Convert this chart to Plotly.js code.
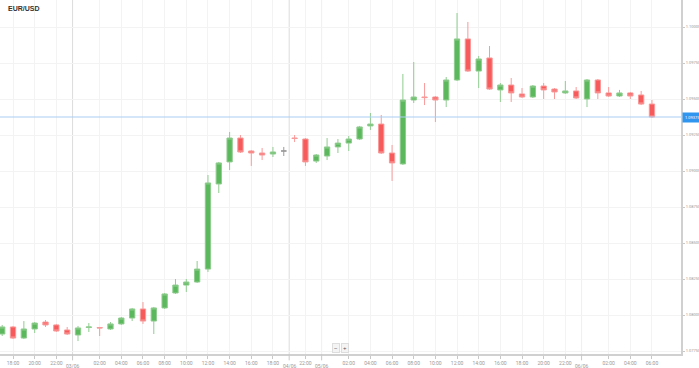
<!DOCTYPE html>
<html>
<head>
<meta charset="utf-8">
<script src="https://cdn.plot.ly/plotly-3.0.1.min.js"></script>
<style>html,body{margin:0;padding:0;background:#fff}#chart{width:699px;height:368px}</style>
</head>
<body>
<div id="chart"></div>
<script>
var title = "EUR/USD";
var times = [
"02/06 17:00","02/06 18:00","02/06 19:00","02/06 20:00","02/06 21:00","02/06 22:00","02/06 23:00",
"03/06 00:00","03/06 01:00","03/06 02:00","03/06 03:00","03/06 04:00","03/06 05:00","03/06 06:00",
"03/06 07:00","03/06 08:00","03/06 09:00","03/06 10:00","03/06 11:00","03/06 12:00","03/06 13:00",
"03/06 14:00","03/06 15:00","03/06 16:00","03/06 17:00","03/06 18:00","03/06 19:00",
"04/06 21:00","04/06 22:00","04/06 23:00",
"05/06 00:00","05/06 01:00","05/06 02:00","05/06 03:00","05/06 04:00","05/06 05:00","05/06 06:00",
"05/06 07:00","05/06 08:00","05/06 09:00","05/06 10:00","05/06 11:00","05/06 12:00","05/06 13:00",
"05/06 14:00","05/06 15:00","05/06 16:00","05/06 17:00","05/06 18:00","05/06 19:00","05/06 20:00",
"05/06 21:00","05/06 22:00","05/06 23:00",
"06/06 00:00","06/06 01:00","06/06 02:00","06/06 03:00","06/06 04:00","06/06 05:00","06/06 06:00"
];
var open = [1.07868,1.07917,1.07840,1.07903,1.07951,1.07931,1.07896,1.07861,1.07913,1.07913,
1.07903,1.07938,1.07979,1.08042,1.07958,1.08049,1.08153,1.08208,1.08229,1.08319,
1.08910,1.09063,1.09229,1.09139,1.09125,1.09118,1.09139,1.09229,1.09222,1.09069,
1.09104,1.09167,1.09194,1.09222,1.09313,1.09326,1.09125,1.09049,1.09493,1.09514,
1.09514,1.09493,1.09632,1.09917,1.09694,1.09785,1.09563,1.09597,1.09535,1.09514,
1.09590,1.09569,1.09542,1.09556,1.09500,1.09632,1.09542,1.09521,1.09542,1.09528,1.09465];
var high = [1.07931,1.07924,1.07958,1.07951,1.07965,1.07938,1.07917,1.07924,1.07944,1.07917,
1.07951,1.07986,1.08049,1.08090,1.08056,1.08153,1.08250,1.08250,1.08375,1.08972,
1.09063,1.09271,1.09250,1.09146,1.09160,1.09167,1.09167,1.09250,1.09229,1.09118,
1.09229,1.09222,1.09243,1.09313,1.09403,1.09389,1.09181,1.09674,1.09757,1.09611,
1.09521,1.09653,1.10097,1.10035,1.09799,1.09868,1.09611,1.09646,1.09576,1.09597,
1.09611,1.09576,1.09625,1.09583,1.09639,1.09639,1.09583,1.09563,1.09549,1.09556,1.09493];
var low = [1.07854,1.07833,1.07833,1.07875,1.07917,1.07882,1.07861,1.07819,1.07882,1.07854,
1.07896,1.07931,1.07958,1.07938,1.07868,1.08042,1.08146,1.08160,1.08222,1.08299,
1.08847,1.09007,1.09125,1.09035,1.09076,1.09097,1.09104,1.09201,1.09035,1.09056,
1.09076,1.09125,1.09139,1.09215,1.09285,1.09118,1.08931,1.09042,1.09472,1.09458,
1.09340,1.09444,1.09625,1.09688,1.09576,1.09563,1.09479,1.09479,1.09507,1.09507,
1.09500,1.09500,1.09535,1.09500,1.09444,1.09500,1.09514,1.09514,1.09500,1.09458,1.09368];
var close = [1.07917,1.07840,1.07903,1.07944,1.07931,1.07889,1.07868,1.07910,1.07917,1.07910,
1.07938,1.07979,1.08042,1.07958,1.08049,1.08146,1.08208,1.08229,1.08319,1.08917,
1.09056,1.09229,1.09132,1.09125,1.09111,1.09132,1.09139,1.09226,1.09063,1.09111,
1.09167,1.09194,1.09222,1.09306,1.09326,1.09125,1.09056,1.09493,1.09514,1.09510,
1.09493,1.09632,1.09917,1.09694,1.09778,1.09569,1.09597,1.09542,1.09514,1.09590,
1.09563,1.09549,1.09556,1.09507,1.09632,1.09542,1.09521,1.09542,1.09521,1.09465,1.09375];
var priceTicks = [1.07750,1.08000,1.08250,1.08500,1.08750,1.09000,1.09250,1.09500,1.09750,1.10000];
var lastPrice = 1.09375;
var breakDays = ["03/06","04/06"];

function pick(cond){
  var o={x:[],open:[],high:[],low:[],close:[]};
  for (var i=0;i<times.length;i++){ if(cond(open[i],close[i])){o.x.push(i);o.open.push(open[i]);o.high.push(high[i]);o.low.push(low[i]);o.close.push(close[i]);} }
  return o;
}
function cs(d, fill, line){
  return {type:'candlestick', x:d.x, open:d.open, high:d.high, low:d.low, close:d.close,
    increasing:{fillcolor:fill, line:{color:line,width:1}},
    decreasing:{fillcolor:fill, line:{color:line,width:1}},
    whiskerwidth:0, hoverinfo:'skip', showlegend:false};
}
var traces = [
  cs(pick(function(o,c){return c>o;}), '#5cb85c', '#8fcc8f'),
  cs(pick(function(o,c){return c<o;}), '#f75a5a', '#f99a9a'),
  cs(pick(function(o,c){return c===o;}), '#9a9a9a', '#9a9a9a')
];

var tickvals=[], ticktext=[], annotations=[], shapes=[];
for (var i=0;i<times.length;i++){
  var d=times[i].split(' ')[0], t=times[i].split(' ')[1];
  var h=parseInt(t,10);
  if (h%2===0 && h!==0){ tickvals.push(i); ticktext.push(t); }
  if (i>0 && times[i-1].split(' ')[0]!==d){
    annotations.push({xref:'x',yref:'paper',x:i-0.5,y:0,yanchor:'middle',yshift:-12,text:d,showarrow:false,
      font:{family:'Roboto, Arial, sans-serif',size:5,color:'#999'}});
    var dark = breakDays.indexOf(d)>=0;
    shapes.push({type:'line',xref:'x',yref:'paper',x0:i-0.5,x1:i-0.5,y0:0,y1:1,
      line:{color: dark?'#dcdcdc':'#efefef',width:1},layer:'below'});
    shapes.push({type:'line',xref:'x',yref:'paper',x0:i-0.5,x1:i-0.5,y0:0,y1:-0.018,
      line:{color:'#c8c8c8',width:1}});
  }
}
shapes.push({type:'line',xref:'paper',yref:'y',x0:0,x1:1,y0:lastPrice,y1:lastPrice,
  line:{color:'#a9cdf2',width:1},layer:'above'});
annotations.push({xref:'paper',yref:'y',x:1,y:lastPrice,xanchor:'left',yanchor:'middle',xshift:1,
  text:lastPrice.toFixed(5),showarrow:false,bgcolor:'#2f95ef',borderpad:2,
  font:{family:'Roboto, Arial, sans-serif',size:4,color:'#fff'}});
annotations.push({xref:'paper',yref:'paper',x:0.0088,y:0.975,xanchor:'left',yanchor:'middle',
  text:'<b>'+title+'</b>',showarrow:false,font:{family:'Liberation Sans, Arial, sans-serif',size:7,color:'#333'}});
annotations.push({xref:'paper',yref:'paper',x:0.493,y:0.017,xanchor:'center',yanchor:'middle',
  text:'−',showarrow:false,bgcolor:'#f4f4f4',bordercolor:'#dddddd',borderwidth:1,borderpad:1,
  font:{family:'Arial',size:6,color:'#555'}});
annotations.push({xref:'paper',yref:'paper',x:0.507,y:0.017,xanchor:'center',yanchor:'middle',
  text:'+',showarrow:false,bgcolor:'#f4f4f4',bordercolor:'#dddddd',borderwidth:1,borderpad:1,
  font:{family:'Arial',size:6,color:'#555'}});

var layout = {
  width:699, height:368, margin:{l:0,r:18,t:0,b:14},
  paper_bgcolor:'#fff', plot_bgcolor:'#fff', showlegend:false, boxgap:0.3,
  xaxis:{range:[-0.203,62.68], tickvals:tickvals, ticktext:ticktext, showgrid:true, gridcolor:'#f3f3f3',
    zeroline:false, showline:true, linecolor:'#d0d0d0', linewidth:2, ticks:'outside', ticklen:3, tickcolor:'#c8c8c8',
    tickfont:{family:'Roboto, Arial, sans-serif',size:5,color:'#999'}, rangeslider:{visible:false}, fixedrange:true},
  yaxis:{side:'right', range:[1.077292,1.101875], tickvals:priceTicks, ticktext:priceTicks.map(function(v){return v.toFixed(5);}),
    showgrid:true, gridcolor:'#f3f3f3', zeroline:false, showline:true, linecolor:'#d0d0d0', linewidth:2,
    ticks:'outside', ticklen:2, tickcolor:'#c8c8c8',
    tickfont:{family:'Roboto, Arial, sans-serif',size:4,color:'#999'}, fixedrange:true},
  annotations:annotations, shapes:shapes
};
Plotly.newPlot('chart', traces, layout, {displayModeBar:false, staticPlot:true});
</script>
</body>
</html>
